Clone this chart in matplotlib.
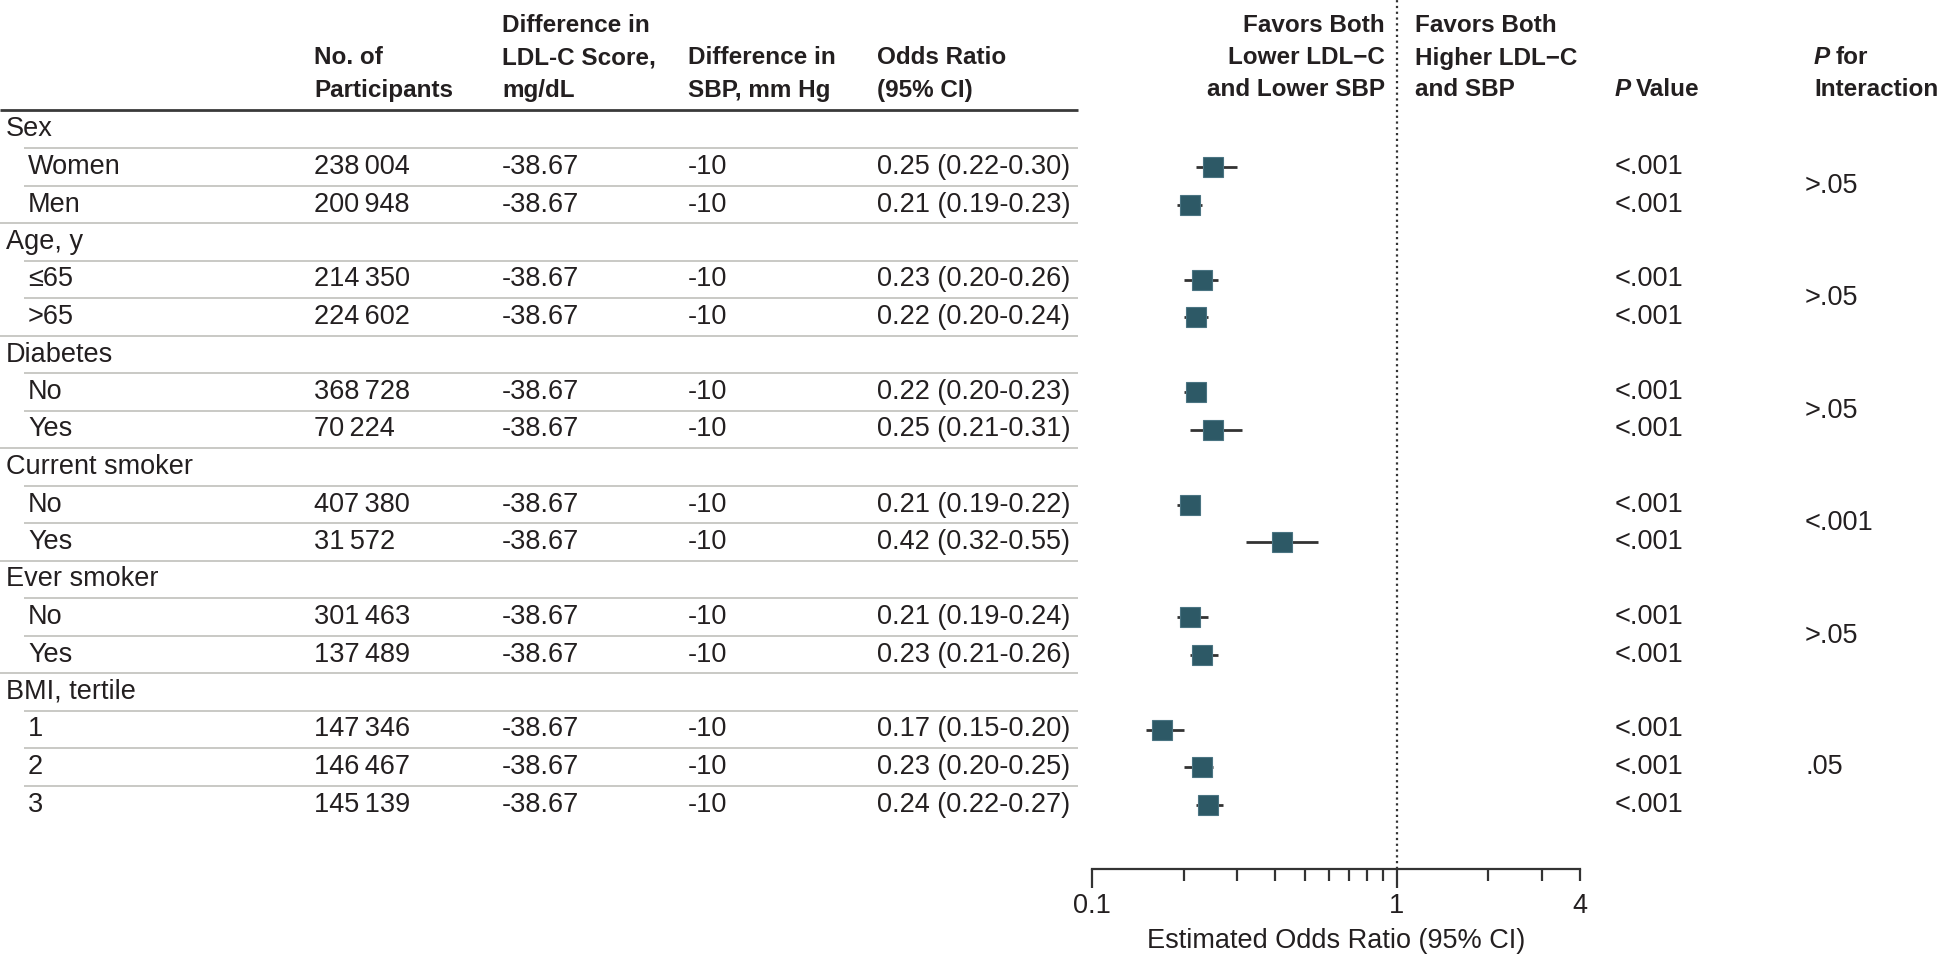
import matplotlib
matplotlib.use("Agg")
import matplotlib.pyplot as plt
import matplotlib.ticker as mticker
from matplotlib.transforms import offset_copy

plt.rcParams['font.family'] = ['Liberation Sans', 'DejaVu Sans']

# ---- table content -------------------------------------------------------
row_labels = ["Sex", "Women", "Men",
              "Age, y", "\u226465", ">65",
              "Diabetes", "No", "Yes",
              "Current smoker", "No", "Yes",
              "Ever smoker", "No", "Yes",
              "BMI, tertile", "1", "2", "3"]
is_header = [True, False, False,
             True, False, False,
             True, False, False,
             True, False, False,
             True, False, False,
             True, False, False, False]

participants = [None, "238\u2009004", "200\u2009948",
                None, "214\u2009350", "224\u2009602",
                None, "368\u2009728", "70\u2009224",
                None, "407\u2009380", "31\u2009572",
                None, "301\u2009463", "137\u2009489",
                None, "147\u2009346", "146\u2009467", "145\u2009139"]
ldl_diff = "-38.67"
sbp_diff = "-10"

odds_ratio = [None, 0.25, 0.21, None, 0.23, 0.22, None, 0.22, 0.25,
              None, 0.21, 0.42, None, 0.21, 0.23, None, 0.17, 0.23, 0.24]
ci_low = [None, 0.22, 0.19, None, 0.20, 0.20, None, 0.20, 0.21,
          None, 0.19, 0.32, None, 0.19, 0.21, None, 0.15, 0.20, 0.22]
ci_high = [None, 0.30, 0.23, None, 0.26, 0.24, None, 0.23, 0.31,
           None, 0.22, 0.55, None, 0.24, 0.26, None, 0.20, 0.25, 0.27]

p_values = [None, "<.001", "<.001", None, "<.001", "<.001", None, "<.001", "<.001",
            None, "<.001", "<.001", None, "<.001", "<.001", None, "<.001", "<.001", "<.001"]
# interaction P value per group: (first row index, last row index, text)
p_interaction = [(1, 2, ">.05"), (4, 5, ">.05"), (7, 8, ">.05"),
                 (10, 11, "<.001"), (13, 14, ">.05"), (16, 18, ".05")]

x_ticks_major = [0.1, 1, 4]
x_tick_labels = ["0.1", "1", "4"]
x_ticks_minor = [0.2, 0.3, 0.4, 0.5, 0.6, 0.7, 0.8, 0.9, 2, 3]

# ---- layout (pixel units) ------------------------------------------------
W, H = 1944, 957
TXT = "#231f20"
MARK = "#2d5966"
FS = 19.5
FS_HEAD = 17.5

row_y0, row_dy = 129.5, 37.5
row_y = [row_y0 + i * row_dy for i in range(len(row_labels))]
axis_y = 869

fig = plt.figure(figsize=(W / 100, H / 100), dpi=100)
renderer = fig.canvas.get_renderer()
tab = fig.add_axes([0, 0, 1, 1])
tab.set_xlim(0, W)
tab.set_ylim(H, 0)
tab.axis("off")

col_part, col_ldl, col_sbp, col_or = 314, 502, 688, 877
col_p, col_pint = 1615, 1805

hdr_lines_y = [26, 58, 90]


def header(x, lines, ha="left"):
    start = 3 - len(lines)
    for k, s in enumerate(lines):
        tab.text(x, hdr_lines_y[start + k], s, ha=ha, va="center",
                 fontsize=FS_HEAD, fontweight="bold", color=TXT)


def italic_p_header(x, y, rest):
    """Bold header whose leading P is set in italics."""
    p = tab.text(x, y, "P", fontsize=FS_HEAD, fontweight="bold",
                 fontstyle="italic", color=TXT, va="center", ha="left")
    w = p.get_window_extent(renderer=renderer).width
    tr = offset_copy(tab.transData, fig=fig, x=w + 5, y=0, units="dots")
    tab.text(x, y, rest, fontsize=FS_HEAD, fontweight="bold", color=TXT,
             va="center", ha="left", transform=tr)


header(col_part, ["No. of", "Participants"])
header(col_ldl, ["Difference in", "LDL-C Score,", "mg/dL"])
header(col_sbp, ["Difference in", "SBP, mm Hg"])
header(col_or, ["Odds Ratio", "(95% CI)"])
header(1385, ["Favors Both", "Lower LDL\u2212C", "and Lower SBP"], ha="right")
header(1415, ["Favors Both", "Higher LDL\u2212C", "and SBP"])

italic_p_header(col_p, hdr_lines_y[2], "Value")
italic_p_header(1814, hdr_lines_y[1], "for")
tab.text(1814, hdr_lines_y[2], "Interaction", fontsize=FS_HEAD, fontweight="bold",
         color=TXT, va="center", ha="left")

# header rule
tab.plot([0, 1078], [110, 110], color="#3a3a3a", lw=2.0, solid_capstyle="butt")

# rows
for i, lab in enumerate(row_labels):
    y = row_y[i]
    if is_header[i]:
        tab.text(6, y, lab, fontsize=FS, color=TXT, va="center", ha="left")
    else:
        tab.text(28, y, lab, fontsize=FS, color=TXT, va="center", ha="left")
        tab.text(col_part, y, participants[i], fontsize=FS, color=TXT, va="center")
        tab.text(col_ldl, y, ldl_diff, fontsize=FS, color=TXT, va="center")
        tab.text(col_sbp, y, sbp_diff, fontsize=FS, color=TXT, va="center")
        tab.text(col_or, y, f"{odds_ratio[i]:.2f} ({ci_low[i]:.2f}-{ci_high[i]:.2f})",
                 fontsize=FS, color=TXT, va="center")
        tab.text(col_p, y, p_values[i], fontsize=FS, color=TXT, va="center")
    # row separators
    if i < len(row_labels) - 1:
        ends_group = is_header[i + 1]
        x0 = 0 if ends_group else 24
        tab.plot([x0, 1078], [y + row_dy / 2, y + row_dy / 2], color="#c9c9c5",
                 lw=1.4, solid_capstyle="butt")

for a, b, s in p_interaction:
    tab.text(col_pint, (row_y[a] + row_y[b]) / 2, s, fontsize=FS, color=TXT,
             va="center", ha="left")

# ---- forest plot ----------------------------------------------------------
x_left, x_right = 1092, 1580
ax = fig.add_axes([x_left / W, (H - axis_y) / H, (x_right - x_left) / W, axis_y / H])
ax.set_xscale("log")
ax.set_xlim(0.1, 4)
ax.set_ylim(axis_y, 0)
ax.patch.set_alpha(0)
for s in ["top", "left", "right"]:
    ax.spines[s].set_visible(False)
ax.spines["bottom"].set_color("#333333")
ax.spines["bottom"].set_linewidth(1.6)
ax.set_yticks([])

ax.set_xticks(x_ticks_major)
ax.set_xticklabels(x_tick_labels, fontsize=FS, color=TXT)
ax.set_xticks(x_ticks_minor, minor=True)
ax.xaxis.set_minor_formatter(mticker.NullFormatter())
ax.tick_params(axis="x", which="major", length=13.5, width=1.6, color="#333333", pad=4)
ax.tick_params(axis="x", which="minor", length=8.5, width=1.6, color="#333333")
ax.xaxis.get_major_ticks()[2].tick1line.set_markersize(8.5)
ax.set_xlabel("Estimated Odds Ratio (95% CI)", fontsize=FS, color=TXT, labelpad=6)

ax.axvline(1, ymin=0, ymax=1, color="#333333", lw=1.6, ls=(0, (1, 1.6)))

for i in range(len(row_labels)):
    if odds_ratio[i] is None:
        continue
    y = row_y[i]
    ax.plot([ci_low[i], ci_high[i]], [y, y], color="#333333", lw=2.0,
            solid_capstyle="butt", zorder=2)
    ax.plot([odds_ratio[i]], [y], marker="s", markersize=13.8, color=MARK,
            markeredgecolor="#4a7482", markeredgewidth=0.8, zorder=3)

fig.savefig("out.png", dpi=100)
